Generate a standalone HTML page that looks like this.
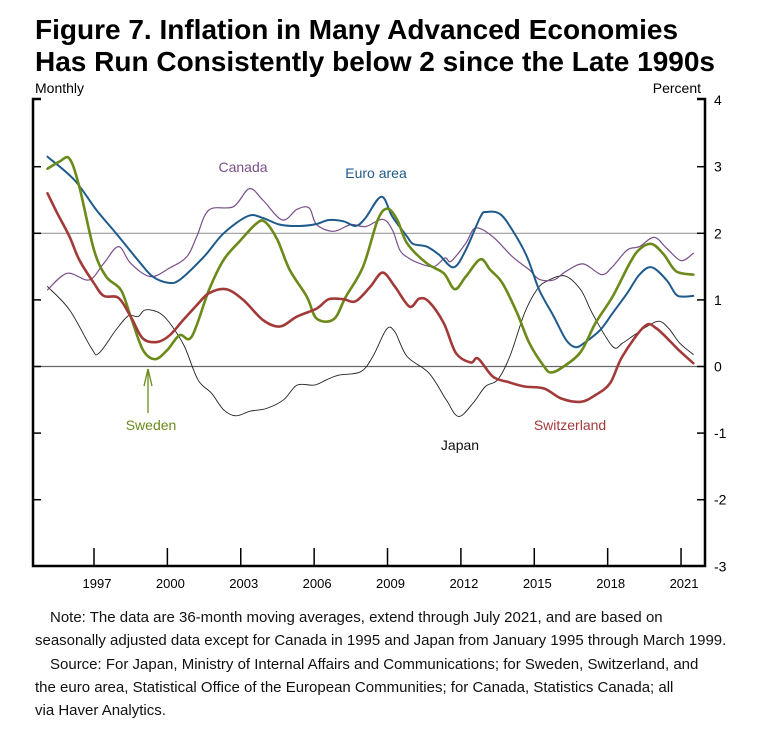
<!DOCTYPE html>
<html><head><meta charset="utf-8"><style>
body{margin:0;background:#fff;width:759px;height:726px;overflow:hidden;font-family:"Liberation Sans",Arial,sans-serif}
</style></head><body>
<svg id="c" width="759" height="726" xmlns="http://www.w3.org/2000/svg" font-family="Liberation Sans, Arial, sans-serif">
<text x="35" y="39" font-size="28" font-weight="bold">Figure 7. Inflation in Many Advanced Economies</text>
<text x="35" y="71" font-size="28" font-weight="bold">Has Run Consistently below 2 since the Late 1990s</text>
<text x="35" y="93" font-size="14">Monthly</text>
<text x="701" y="93" font-size="14" text-anchor="end">Percent</text>
<g id="grid"></g><g id="series"></g><g id="axes"></g>
<g font-size="14">
<text x="243" y="172" fill="#7a4f8a" text-anchor="middle">Canada</text>
<text x="376" y="178" fill="#1f5a8c" text-anchor="middle">Euro area</text>
<text x="151" y="430" fill="#6b8a1a" text-anchor="middle">Sweden</text>
<text x="460" y="450" fill="#111" text-anchor="middle">Japan</text>
<text x="570" y="430" fill="#a33a3a" text-anchor="middle">Switzerland</text>
</g>
<g stroke="#6b8a1a" stroke-width="1.3" fill="none">
<line x1="148" y1="369" x2="148" y2="413"/><line x1="148" y1="369" x2="144" y2="386"/><line x1="148" y1="369" x2="152" y2="386"/></g>
<g font-size="15" fill="#111">
<text x="50" y="622">Note:  The data are 36-month moving averages, extend through July 2021, and are based on</text>
<text x="35" y="645">seasonally adjusted data except for Canada in 1995 and Japan from January 1995 through March 1999.</text>
<text x="50" y="669">Source:  For Japan, Ministry of Internal Affairs and Communications; for Sweden, Switzerland, and</text>
<text x="35" y="692">the euro area, Statistical Office of the European Communities; for Canada, Statistics Canada; all</text>
<text x="35" y="715">via Haver Analytics.</text>
</g>
</svg>
<script>
const yTicks=[4,3,2,1,0,-1,-2,-3];
const xTickYears=[1997,2000,2003,2006,2009,2012,2015,2018,2021];
const euroYears=[1995.1,1996.2,1997.1,1997.9,1998.9,1999.4,2000.0,2000.5,2001.5,2002.3,2003.3,2003.9,2004.6,2005.4,2006.1,2006.6,2007.2,2007.7,2008.1,2008.75,2009.2,2009.8,2010.05,2010.6,2011.1,2011.7,2012.2,2012.8,2013.05,2013.6,2014.1,2014.7,2015.2,2015.8,2016.3,2016.7,2017.1,2017.7,2018.2,2018.8,2019.3,2019.8,2020.4,2020.8,2021.1,2021.5];
const euroVals=[3.15,2.8,2.35,2.0,1.55,1.35,1.26,1.3,1.65,2.0,2.26,2.23,2.13,2.11,2.14,2.2,2.18,2.11,2.23,2.55,2.25,1.95,1.84,1.8,1.68,1.49,1.75,2.25,2.32,2.29,2.05,1.65,1.15,0.75,0.4,0.29,0.37,0.55,0.8,1.1,1.38,1.49,1.3,1.08,1.05,1.06];
const swedenYears=[1995.1,1995.6,1996.0,1996.4,1997.0,1997.5,1998.1,1998.5,1999.0,1999.5,2000.0,2000.5,2001.0,2001.7,2002.3,2003.0,2003.65,2004.0,2004.5,2005.0,2005.7,2006.1,2006.8,2007.3,2008.0,2008.6,2009.0,2009.4,2009.8,2010.6,2011.3,2011.75,2012.2,2012.8,2013.2,2013.7,2014.3,2014.8,2015.4,2015.7,2016.2,2016.9,2017.5,2018.2,2018.9,2019.3,2019.8,2020.3,2020.8,2021.5];
const swedenVals=[2.97,3.08,3.12,2.7,1.75,1.35,1.15,0.75,0.25,0.11,0.25,0.47,0.45,1.15,1.6,1.9,2.15,2.17,1.9,1.45,1.05,0.72,0.71,1.05,1.5,2.2,2.37,2.2,1.85,1.55,1.4,1.16,1.35,1.61,1.45,1.25,0.8,0.35,0.0,-0.09,0.0,0.22,0.65,1.05,1.55,1.76,1.84,1.68,1.43,1.38];
const canadaYears=[1995.1,1995.9,1996.8,1997.4,1998.0,1998.5,1999.3,2000.1,2000.8,2001.2,2001.7,2002.7,2003.35,2003.9,2004.7,2005.3,2005.8,2006.1,2006.8,2007.5,2008.1,2008.8,2009.2,2009.5,2009.85,2010.3,2010.9,2011.35,2011.6,2012.2,2012.6,2013.3,2014.1,2014.8,2015.2,2015.8,2016.3,2017.0,2017.75,2018.2,2018.8,2019.3,2019.9,2020.4,2021.0,2021.5];
const canadaVals=[1.15,1.4,1.3,1.55,1.8,1.55,1.35,1.48,1.65,1.95,2.35,2.4,2.67,2.5,2.2,2.36,2.38,2.13,2.03,2.13,2.1,2.21,2.05,1.75,1.63,1.55,1.5,1.63,1.58,1.85,2.08,1.95,1.65,1.45,1.31,1.3,1.43,1.54,1.38,1.5,1.75,1.8,1.94,1.78,1.59,1.7];
const swissYears=[1995.1,1995.5,1996.0,1996.4,1997.0,1997.4,1998.0,1998.5,1999.0,1999.6,2000.1,2000.65,2001.2,2001.7,2002.4,2003.1,2003.9,2004.6,2005.3,2006.1,2006.6,2007.2,2007.7,2008.3,2008.8,2009.3,2009.9,2010.3,2010.7,2011.3,2011.8,2012.4,2012.7,2013.3,2013.9,2014.6,2015.4,2016.1,2016.9,2017.5,2018.1,2018.6,2019.5,2020.0,2020.9,2021.5];
const swissVals=[2.6,2.3,1.95,1.6,1.25,1.06,1.03,0.75,0.42,0.37,0.47,0.7,0.92,1.1,1.16,1.0,0.7,0.6,0.75,0.87,1.01,1.01,0.98,1.2,1.41,1.2,0.9,1.02,0.97,0.65,0.2,0.06,0.12,-0.15,-0.23,-0.3,-0.33,-0.48,-0.53,-0.43,-0.25,0.15,0.6,0.57,0.25,0.05];
const japanYears=[1995.1,1996.0,1996.9,1997.2,1997.9,1998.4,1998.8,1999.1,1999.7,2000.2,2000.7,2001.25,2001.8,2002.3,2002.8,2003.4,2004.05,2004.75,2005.3,2006.0,2006.5,2007.0,2007.9,2008.4,2008.96,2009.3,2009.8,2010.7,2011.4,2011.9,2012.5,2013.0,2013.5,2014.0,2014.6,2015.1,2015.5,2016.25,2016.9,2017.4,2018.2,2018.6,2019.0,2019.6,2020.1,2020.5,2020.95,2021.5];
const japanVals=[1.2,0.85,0.27,0.2,0.55,0.76,0.75,0.85,0.8,0.6,0.3,-0.2,-0.4,-0.65,-0.74,-0.67,-0.63,-0.5,-0.28,-0.28,-0.2,-0.13,-0.08,0.15,0.56,0.52,0.15,-0.1,-0.5,-0.75,-0.55,-0.3,-0.2,0.15,0.8,1.15,1.28,1.36,1.15,0.78,0.3,0.35,0.45,0.6,0.68,0.57,0.35,0.18];
const NS='http://www.w3.org/2000/svg';
const L=33,R=705,T=99,B=566;
function xs(yr){return 94+(yr-1997)*24.46;}
function ys(v){return 366.5-v*66.6;}
function mk(t,a,p){const e=document.createElementNS(NS,t);for(const k in a)e.setAttribute(k,a[k]);p.appendChild(e);return e;}
const grid=document.getElementById('grid'),axes=document.getElementById('axes'),ser=document.getElementById('series');
[2,0].forEach(v=>{const g=mk('line',{x1:L,x2:R,y1:ys(v),y2:ys(v),stroke:v==0?'#666':'#999','stroke-width':1.2},grid);

});
let a=mk('path',{d:`M${L+8},${T}H${L}V${B}H${R}V${T}H${R-8}`,fill:'none',stroke:'#000','stroke-width':2.5},axes);


yTicks.forEach(v=>{const y=ys(v);
if(v>-3&&v<4){const t1=mk('line',{x1:L,x2:L+8,y1:y,y2:y,stroke:'#000','stroke-width':1.5},axes);


const t2=mk('line',{x1:R-8,x2:R,y1:y,y2:y,stroke:'#000','stroke-width':1.5},axes);

}
const tx=mk('text',{x:714,y:y+5,'font-size':14},axes);tx.textContent=v;

});
xTickYears.forEach(yr=>{const x=xs(yr);
const t=mk('line',{x1:x,x2:x,y1:B,y2:B-18,stroke:'#000','stroke-width':1.5},axes);


const tx=mk('text',{x:x+3,y:588,'font-size':13,'text-anchor':'middle'},axes);tx.textContent=yr;

});
function line(xsA,vs,col,w,name){
const P=xsA.map((yr,i)=>[xs(yr),ys(vs[i])]);
let d='M'+P[0][0].toFixed(1)+','+P[0][1].toFixed(1);
for(let i=0;i<P.length-1;i++){const p0=P[Math.max(0,i-1)],p1=P[i],p2=P[i+1],p3=P[Math.min(P.length-1,i+2)];
const c1=[p1[0]+(p2[0]-p0[0])/6,p1[1]+(p2[1]-p0[1])/6],c2=[p2[0]-(p3[0]-p1[0])/6,p2[1]-(p3[1]-p1[1])/6];
d+='C'+c1.map(n=>n.toFixed(1)).join(',')+' '+c2.map(n=>n.toFixed(1)).join(',')+' '+p2.map(n=>n.toFixed(1)).join(',');}
const p=mk('path',{d:d,fill:'none',stroke:col,'stroke-width':w,'stroke-linejoin':'round','stroke-linecap':'round'},ser);

}
line(japanYears,japanVals,'#222',0.9,'series-japan');
line(canadaYears,canadaVals,'#7a4f8a',1.2,'series-canada');
line(euroYears,euroVals,'#1f5a8c',2,'series-euro-area');
line(swedenYears,swedenVals,'#6b8a1a',2.6,'series-sweden');
line(swissYears,swissVals,'#a33a3a',2.6,'series-switzerland');
</script>
</body></html>
